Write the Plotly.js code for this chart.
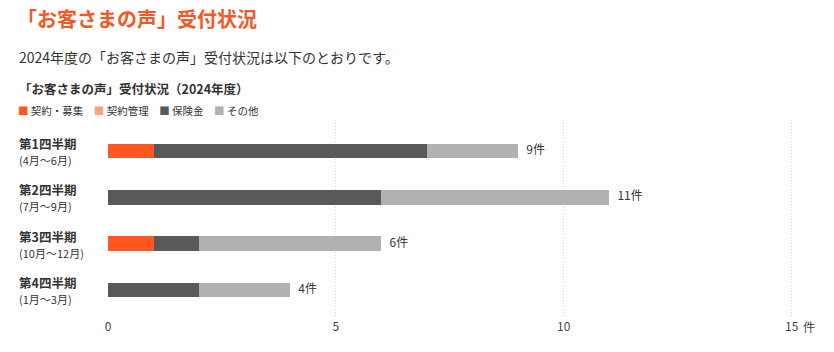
<!DOCTYPE html>
<html>
<head>
<meta charset="utf-8">
<script src="https://cdn.plot.ly/plotly-3.0.1.min.js"></script>
<style>html,body{margin:0;padding:0;background:#fff;}#chart{width:834px;height:352px;}</style>
</head>
<body>
<div id="chart"></div>
<script>
const categories = ["Q1", "Q2", "Q3", "Q4"];
const categoryTitles = ["第1四半期", "第2四半期", "第3四半期", "第4四半期"];
const categoryMonths = ["(4月～6月)", "(7月～9月)", "(10月～12月)", "(1月～3月)"];
const seriesNames = ["契約・募集", "契約管理", "保険金", "その他"];
const keiyakuBoshu = [1, 0, 1, 0];
const keiyakuKanri = [0, 0, 0, 0];
const hokenkin = [6, 6, 1, 2];
const sonota = [2, 5, 4, 2];
const seriesColors = ["#ff5722", "#f9a27f", "#58595b", "#b1b1b3"];
const tickVals = [0, 5, 10, 15];
const tickLabels = ["0", "5", "10", "15"];
const unit = "件";

const seriesValues = [keiyakuBoshu, keiyakuKanri, hokenkin, sonota];
const totals = categories.map((c, i) => seriesValues.reduce((s, arr) => s + arr[i], 0));

const FONT = '"Noto Sans CJK JP", "Noto Sans", sans-serif';

const traces = seriesNames.map((name, k) => ({
  type: 'bar',
  orientation: 'h',
  name: name,
  y: categories,
  x: seriesValues[k],
  marker: {color: seriesColors[k]},
  hoverinfo: 'x+name',
  showlegend: false
}));

traces.push({
  type: 'scatter',
  mode: 'text',
  y: categories,
  x: totals,
  text: totals.map(t => '   ' + t + unit),
  textposition: 'middle right',
  textfont: {family: FONT, size: 12, color: '#333'},
  showlegend: false,
  hoverinfo: 'skip',
  cliponaxis: false
});

const PT = 120, PB = 316;
const H = PB - PT; // plot height in px
function py(p) { return (PB - p) / H; }
function px(p) { return (p - 108) / 685; }

const annotations = [];
categories.forEach((c, i) => {
  annotations.push({
    xref: 'paper', yref: 'y', x: px(17), y: c,
    xanchor: 'left', yanchor: 'middle', align: 'left',
    text: '<b>' + categoryTitles[i] + '</b><br><span style="font-size:11px">' + categoryMonths[i] + '</span>',
    showarrow: false,
    font: {family: FONT, size: 12.5, color: '#333'}
  });
});
annotations.push({
  xref: 'x', yref: 'paper', x: 15, y: py(326),
  xanchor: 'left', yanchor: 'middle', xshift: 9,
  text: unit, showarrow: false,
  font: {family: FONT, size: 12, color: '#444'}
});
annotations.push({
  xref: 'paper', yref: 'paper', x: px(17), y: py(57),
  xanchor: 'left', yanchor: 'middle',
  text: '2024年度の「お客さまの声」受付状況は以下のとおりです。',
  showarrow: false,
  font: {family: FONT, size: 14, color: '#333'}
});
annotations.push({
  xref: 'paper', yref: 'paper', x: px(17), y: py(88),
  xanchor: 'left', yanchor: 'middle',
  text: '<b>「お客さまの声」受付状況（2024年度）</b>',
  showarrow: false,
  font: {family: FONT, size: 12.5, color: '#333'}
});
// legend row built from series names and colours
annotations.push({
  xref: 'paper', yref: 'paper', x: px(16), y: py(110),
  xanchor: 'left', yanchor: 'middle',
  text: seriesNames.map((n, k) => '<span style="color:' + seriesColors[k] + '">■</span> ' + n).join('　'),
  showarrow: false,
  font: {family: FONT, size: 10.5, color: '#333'}
});

const layout = {
  width: 834, height: 352,
  margin: {l: 108, r: 41, t: PT, b: 352 - PB},
  paper_bgcolor: '#fff', plot_bgcolor: '#fff',
  font: {family: FONT, color: '#333'},
  title: {
    text: '<b>「お客さまの声」受付状況</b>',
    font: {family: FONT, size: 20, color: '#f05a28'},
    x: 17 / 834, xanchor: 'left', xref: 'container',
    y: 1 - 20 / 352, yanchor: 'middle', yref: 'container'
  },
  barmode: 'stack',
  bargap: 0.69,
  showlegend: false,
  xaxis: {
    range: [0, 15.03], tickvals: tickVals, ticktext: tickLabels,
    showgrid: true, gridcolor: '#d4d4d4', griddash: '1px,2px', gridwidth: 1,
    zeroline: false, showline: false, ticks: '',
    ticklabelstandoff: 2,
    tickfont: {family: FONT, size: 12, color: '#444'},
    fixedrange: true
  },
  yaxis: {
    categoryorder: 'array', categoryarray: categories,
    range: [3.565, -0.673],
    autorange: false,
    showticklabels: false, showgrid: false, zeroline: false, ticks: '',
    fixedrange: true
  },
  annotations: annotations
};

Plotly.newPlot('chart', traces, layout, {displayModeBar: false});
</script>
</body>
</html>
